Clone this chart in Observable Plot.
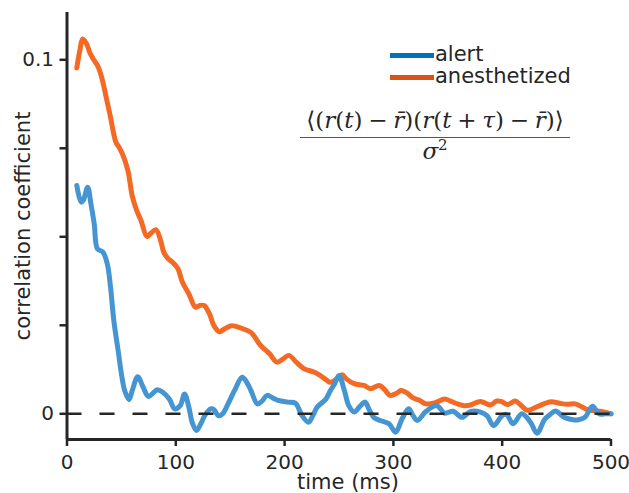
<!DOCTYPE html>
<html><head><meta charset="utf-8">
<script src="https://cdn.jsdelivr.net/npm/d3@7"></script>
<script src="https://cdn.jsdelivr.net/npm/@observablehq/plot@0.6"></script>
<style>
body{margin:0;background:#fff;}
#wrap{position:relative;width:629px;height:493px;font-family:"DejaVu Sans";color:#262626;}
.leg{position:absolute;left:390px;font-size:21px;line-height:21px;white-space:nowrap;}
.leg span.sw{position:absolute;left:0;width:44px;height:5px;}
.leg span.tx{position:absolute;left:45px;top:0;}
#formula{position:absolute;left:300px;top:107px;width:270px;font-family:"DejaVu Serif";font-size:23px;text-align:center;color:#262626;line-height:26px;}
#formula .num{height:26px;padding-bottom:4px;border-bottom:1.2px solid #555;}
#formula .den{height:26px;}
#formula i{font-style:italic;}
</style></head><body><div id="wrap"></div><script>
// time lags (ms) and correlation coefficients
const alertT = [9,13,15,19,22,25,28,33,37,40,43,47,50,53,57,60,65,70,75,83,88,94,99,104,108,112,115,119,123,127,132,135,139,143,148,154,161,165,169,175,179,184,189,194,203,210,216,222,226,230,238,242,246,250,255,259,264,269,274,278,282,288,296,302,308,314,318,322,330,340,347,355,363,371,380,386,392,400,404,410,418,426,432,439,444,449,457,465,470,476,483,489,495,500];
const alertR = [0.0645,0.0598,0.0603,0.064,0.0593,0.0537,0.0466,0.0457,0.0424,0.0358,0.0264,0.0179,0.0113,0.0066,0.004,0.0066,0.0105,0.0075,0.0049,0.0068,0.0061,0.0042,0.0014,0.0023,0.0056,0.0019,-0.0024,-0.0047,-0.0028,-0.0003,0.0014,0.0012,-0.0005,0.0,0.0028,0.0066,0.0103,0.009,0.0066,0.0028,0.0035,0.0052,0.0045,0.0038,0.0033,0.003,-0.0005,-0.0024,-0.0005,0.0019,0.0042,0.0065,0.0085,0.0108,0.0065,0.0023,0.0005,0.002,0.0033,0.001,-0.001,-0.0019,-0.0028,-0.0052,-0.0014,0.0014,-0.0005,-0.0019,0.0007,0.0023,0.0002,0.0007,-0.001,0.0007,0.0005,-0.0005,-0.0033,-0.0005,-0.0002,-0.0028,0.0,-0.0024,-0.0055,-0.0016,-0.0002,0.0008,-0.001,-0.0017,-0.0017,-0.001,0.0021,0.0,0.0,0.0];
const anesT = [9,12,14.4,18,21,24,28,31,34,37,40,43,45,48,51,56,60,64,68,73.5,77,81.7,86,89,93,97,102,106,112,118,122,126,131,135,140,145,151,160,169,178,186,193,199,204,211,218,227,233,239,242,250,253,257,264,273,279,287,292,297,303,307,312,318,324,330,339,347,353,359,365,371,380,389,395,399,405,412,417,423,432,440,445,454,460,467,473,478,484,490,495,500];
const anesR = [0.0977,0.103,0.1059,0.1045,0.102,0.1003,0.0984,0.096,0.0923,0.088,0.0838,0.079,0.0767,0.0752,0.0734,0.0687,0.0615,0.0575,0.0546,0.0501,0.051,0.052,0.049,0.0456,0.0438,0.0428,0.041,0.0372,0.0339,0.0301,0.0306,0.0306,0.0282,0.0249,0.0232,0.024,0.0249,0.0242,0.023,0.0193,0.017,0.0146,0.0156,0.0165,0.0145,0.0127,0.0118,0.0108,0.0094,0.0089,0.0103,0.011,0.0098,0.0085,0.008,0.0071,0.008,0.0068,0.0052,0.0058,0.0066,0.006,0.0045,0.0038,0.0028,0.0032,0.0042,0.0035,0.0028,0.0023,0.0025,0.0035,0.0025,0.0036,0.0035,0.0026,0.0036,0.0025,0.001,0.002,0.003,0.0034,0.0029,0.0027,0.0028,0.002,0.0012,0.0009,0.0007,0.0004,0.0];
const seriesNames = ["alert", "anesthetized"];
const xTicks = [0,100,200,300,400,500];
const yTicks = [0,0.025,0.05,0.075,0.1];
const yTickLabels = ["0","","","","0.1"];
const xDomain = [0, 500];
const yDomain = [-0.00726, 0.11336];
const xLabel = "time (ms)";
const yLabel = "correlation coefficient";

const lineColors = ["#4595d3", "#f46a25"];
const legendColors = ["#0072BD", "#D95319"];
const ink = "#262626";

const alertData = alertT.map((t, i) => ({t, r: alertR[i]}));
const anesData = anesT.map((t, i) => ({t, r: anesR[i]}));

const chart = Plot.plot({
  width: 629, height: 493,
  marginLeft: 66.5, marginRight: 18.5, marginTop: 12, marginBottom: 54,
  style: {fontFamily: "DejaVu Sans", fontSize: "20px", color: ink, background: "white", overflow: "visible"},
  x: {domain: xDomain},
  y: {domain: yDomain},
  marks: [
    Plot.line(anesData, {x: "t", y: "r", stroke: lineColors[1], strokeWidth: 5, strokeLinejoin: "round", curve: "catmull-rom"}),
    Plot.line(alertData, {x: "t", y: "r", stroke: lineColors[0], strokeWidth: 5, strokeLinejoin: "round", curve: "catmull-rom"}),
    Plot.ruleY([0], {stroke: ink, strokeWidth: 2.5, strokeDasharray: "15,18"}),
    Plot.ruleX([xDomain[0]], {stroke: ink, strokeWidth: 3}),
    Plot.ruleY([yDomain[0]], {stroke: ink, strokeWidth: 3}),
    Plot.axisY({ticks: yTicks, tickSize: 7, tickPadding: 6, strokeWidth: 2.5, label: null, fontSize: 20,
      tickFormat: d => yTickLabels[yTicks.indexOf(d)] ?? ""}),
    Plot.axisX({ticks: xTicks, tickSize: 7, tickPadding: 8, strokeWidth: 2.5, label: null, fontSize: 20, tickFormat: d => String(d)}),
    Plot.text([yLabel], {text: d => d, frameAnchor: "left", textAnchor: "middle", lineAnchor: "middle", rotate: -90, dx: -44, fontSize: 21, fill: ink}),
    Plot.text([xLabel], {text: d => d, frameAnchor: "bottom", textAnchor: "middle", lineAnchor: "middle", dx: 9, dy: 43, fontSize: 21, fill: ink})
  ]
});

const wrap = document.getElementById("wrap");
wrap.appendChild(chart);

// legend
const legTops = [44, 66];
seriesNames.forEach((name, i) => {
  const d = document.createElement("div");
  d.className = "leg";
  d.style.top = legTops[i] + "px";
  d.innerHTML = `<span class="sw" style="top:9px;background:${legendColors[i]}"></span><span class="tx">${name}</span>`;
  wrap.appendChild(d);
});

// formula annotation
const f = document.createElement("div");
f.id = "formula";
f.innerHTML = `<div class="num">⟨(<i>r</i>(<i>t</i>)&#8197;−&#8197;<i>r&#772;</i>)(<i>r</i>(<i>t</i>&#8197;+&#8197;<i>τ</i>)&#8197;−&#8197;<i>r&#772;</i>)⟩</div><div class="den"><i>σ</i><sup style="font-size:15px;line-height:0">2</sup></div>`;
wrap.appendChild(f);
</script></body></html>
